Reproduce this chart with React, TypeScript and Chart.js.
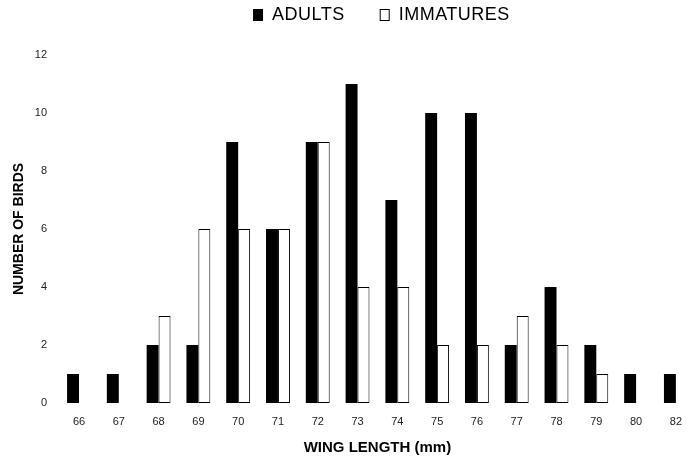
import React, { useEffect, useRef } from "react";
import { Chart, registerables } from "chart.js";

Chart.register(...registerables);

const categories = ["66", "67", "68", "69", "70", "71", "72", "73", "74", "75", "76", "77", "78", "79", "80", "82"];
const adults = [1, 1, 2, 2, 9, 6, 9, 11, 7, 10, 10, 2, 4, 2, 1, 1];
const immatures = [0, 0, 3, 6, 6, 6, 9, 4, 4, 2, 2, 3, 2, 1, 0, 0];
const yTicks = [0, 2, 4, 6, 8, 10, 12];
const seriesLabels = ["ADULTS", "IMMATURES"];

const FONT = '"Liberation Sans", Arial, sans-serif';

const legendPlugin = {
  id: "customLegend",
  afterDraw(chart: any) {
    const ctx = chart.ctx as CanvasRenderingContext2D;
    const area = chart.chartArea;
    ctx.save();
    ctx.font = `18px ${FONT}`;
    (ctx as any).letterSpacing = "0.5px";
    ctx.textBaseline = "middle";
    ctx.fillStyle = "#000";
    const box = 10;
    const gapBoxText = 9;
    const gapItems = 35;
    const widths = chart.data.datasets.map((d: any) => ctx.measureText(d.label).width);
    let total = 0;
    widths.forEach((w: number, i: number) => {
      total += box + gapBoxText + w + (i < widths.length - 1 ? gapItems : 0);
    });
    let x = (area.left + area.right) / 2 + 4 - total / 2;
    const y = 15;
    chart.data.datasets.forEach((d: any, i: number) => {
      if (d.backgroundColor === "#000") {
        ctx.fillStyle = "#000";
        ctx.fillRect(x, y - 6, box, 12);
      } else {
        ctx.strokeStyle = "#000";
        ctx.lineWidth = 1;
        ctx.strokeRect(x + 0.5, y - 5.5, box - 1, 11);
      }
      ctx.fillStyle = "#000";
      ctx.textAlign = "left";
      ctx.fillText(d.label, x + box + gapBoxText, y);
      x += box + gapBoxText + widths[i] + gapItems;
    });
    ctx.restore();
  },
};

export default function App() {
  const ref = useRef<HTMLCanvasElement | null>(null);
  useEffect(() => {
    if (!ref.current) return;
    const chart = new Chart(ref.current, {
      type: "bar",
      data: {
        labels: categories,
        datasets: [
          {
            label: seriesLabels[0],
            data: adults.map((v) => (v === 0 ? null : v)),
            backgroundColor: "#000",
            borderWidth: 0,
            clip: false as any,
          },
          {
            label: seriesLabels[1],
            data: immatures.map((v) => (v === 0 ? null : v)),
            backgroundColor: "#fff",
            borderColor: "#000",
            borderWidth: 1,
            borderSkipped: false,
            clip: false as any,
          },
        ],
      },
      plugins: [legendPlugin],
      options: {
        animation: false,
        responsive: false,
        maintainAspectRatio: false,
        layout: { padding: { top: 55, right: 11, left: 0, bottom: 0 } },
        datasets: {
          bar: { categoryPercentage: 0.6, barPercentage: 1 },
        },
        plugins: {
          legend: { display: false },
          tooltip: { enabled: false },
        },
        scales: {
          x: {
            offset: false,
            grid: { display: false, drawTicks: false },
            border: { display: false },
            ticks: {
              color: "#222",
              font: { family: FONT, size: 11 },
              padding: 12,
              maxRotation: 0,
              autoSkip: false,
            },
            title: {
              display: true,
              text: "WING LENGTH (mm)",
              color: "#000",
              font: { family: FONT, size: 15, weight: "bold" },
              padding: { top: 0, bottom: 4 },
            },
            afterFit(scale: any) {
              scale.height = 58;
            },
          },
          y: {
            min: 0,
            max: 12,
            grid: { display: false, drawTicks: false },
            border: { display: false },
            afterBuildTicks(scale: any) {
              scale.ticks = yTicks.map((v) => ({ value: v }));
            },
            ticks: {
              color: "#222",
              font: { family: FONT, size: 11 },
              padding: 32,
            },
            title: {
              display: true,
              text: "NUMBER OF BIRDS",
              color: "#000",
              font: { family: FONT, size: 14, weight: "bold" },
              padding: { top: 11, bottom: 0 },
            },
            afterFit(scale: any) {
              scale.width = 79;
            },
          },
        },
      },
    });
    return () => chart.destroy();
  }, []);
  return (
    <div style={{ position: "fixed", left: 0, top: 0, width: 694, height: 461, background: "#fff" }}>
      <canvas ref={ref} width={694} height={461} style={{ width: 694, height: 461 }} />
    </div>
  );
}
